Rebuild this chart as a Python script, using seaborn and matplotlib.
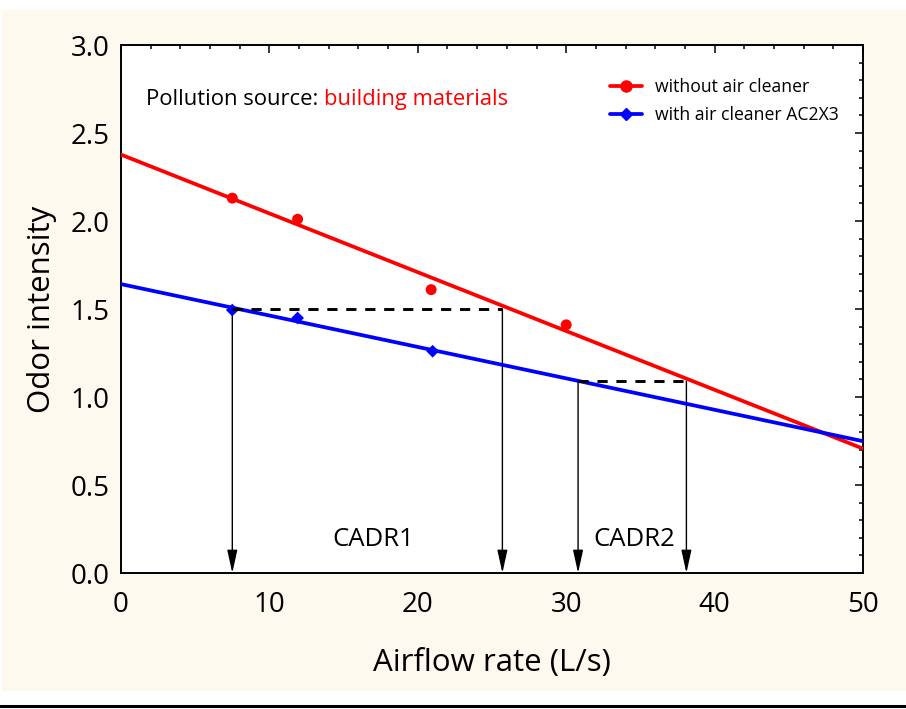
import numpy as np
import pandas as pd
import matplotlib
matplotlib.use("Agg")
import matplotlib.pyplot as plt
from matplotlib.patches import Rectangle
from matplotlib.lines import Line2D
from matplotlib.ticker import MultipleLocator, FormatStrFormatter
import seaborn as sns

# Measured odor intensity vs. airflow rate
airflow_without = [7.5, 11.9, 20.9, 30.0]
odor_without = [2.13, 2.01, 1.61, 1.41]
airflow_with = [7.5, 11.9, 21.0]
odor_with = [1.494, 1.449, 1.26]

# Equal-odor airflow pairs (with cleaner -> without cleaner) and their levels
cadr_labels = ["CADR1", "CADR2"]
cadr_levels = [1.50, 1.09]
cadr_from = [7.5, 30.8]
cadr_to = [25.7, 38.1]
cadr_label_x = [17.0, 34.6]

series_names = ["without air cleaner", "with air cleaner AC2X3"]
red = "#ff0000"
blue = "#0000ff"
cream = "#fef9ee"

sns.set_theme(style="white")
plt.rcParams["font.family"] = ["Open Sans", "DejaVu Sans"]
plt.rcParams["text.color"] = "black"
plt.rcParams["axes.labelcolor"] = "black"

fig = plt.figure(figsize=(9.06, 7.09), dpi=100, facecolor="white")
fig.add_artist(Rectangle((2 / 906, 1 - 691 / 709), 904 / 906, 681 / 709,
                         transform=fig.transFigure, facecolor=cream,
                         edgecolor="none", zorder=-10))
fig.add_artist(Line2D([0, 1], [1 - 706 / 709] * 2, transform=fig.transFigure,
                      color="black", lw=2.2))

ax = fig.add_axes([121 / 906, 1 - 573 / 709, 742 / 906, 528 / 709])
ax.set_facecolor("white")
ax.set_xlim(0, 50)
ax.set_ylim(0, 3.0)

df_without = pd.DataFrame({"x": airflow_without, "y": odor_without})
df_with = pd.DataFrame({"x": airflow_with, "y": odor_with})

# Fitted trend lines across the full axis range
sns.regplot(data=df_without, x="x", y="y", ax=ax, ci=None, truncate=False,
            scatter=False, line_kws=dict(color=red, lw=2.7, zorder=3))
sns.regplot(data=df_with, x="x", y="y", ax=ax, ci=None, truncate=False,
            scatter=False, line_kws=dict(color=blue, lw=2.7, zorder=3))
sns.scatterplot(data=df_without, x="x", y="y", ax=ax, color=red, marker="o",
                s=62, edgecolor="none", zorder=4)
sns.scatterplot(data=df_with, x="x", y="y", ax=ax, color=blue, marker="D",
                s=42, edgecolor="none", zorder=4)

# Equal-odor guides: dashed level line and arrows down to the airflow axis
dash_kw = dict(color="black", lw=2.1, ls=(0, (3.5, 3)), zorder=5)
arrow_kw = dict(arrowstyle="-|>,head_width=0.22,head_length=1.0", color="black",
                lw=1.0, shrinkA=0, shrinkB=0, mutation_scale=14)
for lbl, lvl, xa, xb, xt in zip(cadr_labels, cadr_levels, cadr_from, cadr_to,
                                cadr_label_x):
    ax.plot([xa, xb], [lvl, lvl], **dash_kw)
    for xv in (xa, xb):
        ax.annotate("", xy=(xv, 0), xytext=(xv, lvl), arrowprops=arrow_kw,
                    zorder=2)
    ax.text(xt, 0.19, lbl, fontsize=18.5, ha="center", va="center")

t = ax.text(1.7, 2.69, "Pollution source: ", fontsize=15.8, ha="left",
            va="center")
fig.canvas.draw()
bb = t.get_window_extent()
x_end = ax.transData.inverted().transform((bb.x1, bb.y0))[0]
ax.text(x_end, 2.69, "building materials", fontsize=15.8, color=red,
        ha="left", va="center")

handles = [
    Line2D([], [], color=red, lw=2.7, marker="o", markersize=8),
    Line2D([], [], color=blue, lw=2.7, marker="D", markersize=6),
]
ax.legend(handles, series_names, loc="upper left", frameon=False,
          fontsize=12.7, handlelength=1.8, handletextpad=0.75,
          labelspacing=0.55, borderpad=0, borderaxespad=0,
          bbox_to_anchor=(0.659, 0.937))

ax.xaxis.set_major_locator(MultipleLocator(10))
ax.xaxis.set_minor_locator(MultipleLocator(2))
ax.yaxis.set_major_locator(MultipleLocator(0.5))
ax.yaxis.set_minor_locator(MultipleLocator(0.1))
ax.yaxis.set_major_formatter(FormatStrFormatter("%.1f"))
ax.tick_params(which="both", direction="in", top=True, right=True,
               colors="black", labelsize=20, width=1.1)
ax.tick_params(axis="x", which="major", pad=13)
ax.tick_params(axis="y", which="major", pad=8)
ax.tick_params(which="major", length=6)
ax.tick_params(which="minor", length=3)
for s in ax.spines.values():
    s.set_color("black")
    s.set_linewidth(1.4)

ax.set_xlabel("Airflow rate (L/s)", fontsize=22.5, labelpad=21)
ax.set_ylabel("Odor intensity", fontsize=22.5, labelpad=10)

fig.savefig("out.png", dpi=100, facecolor="white")
